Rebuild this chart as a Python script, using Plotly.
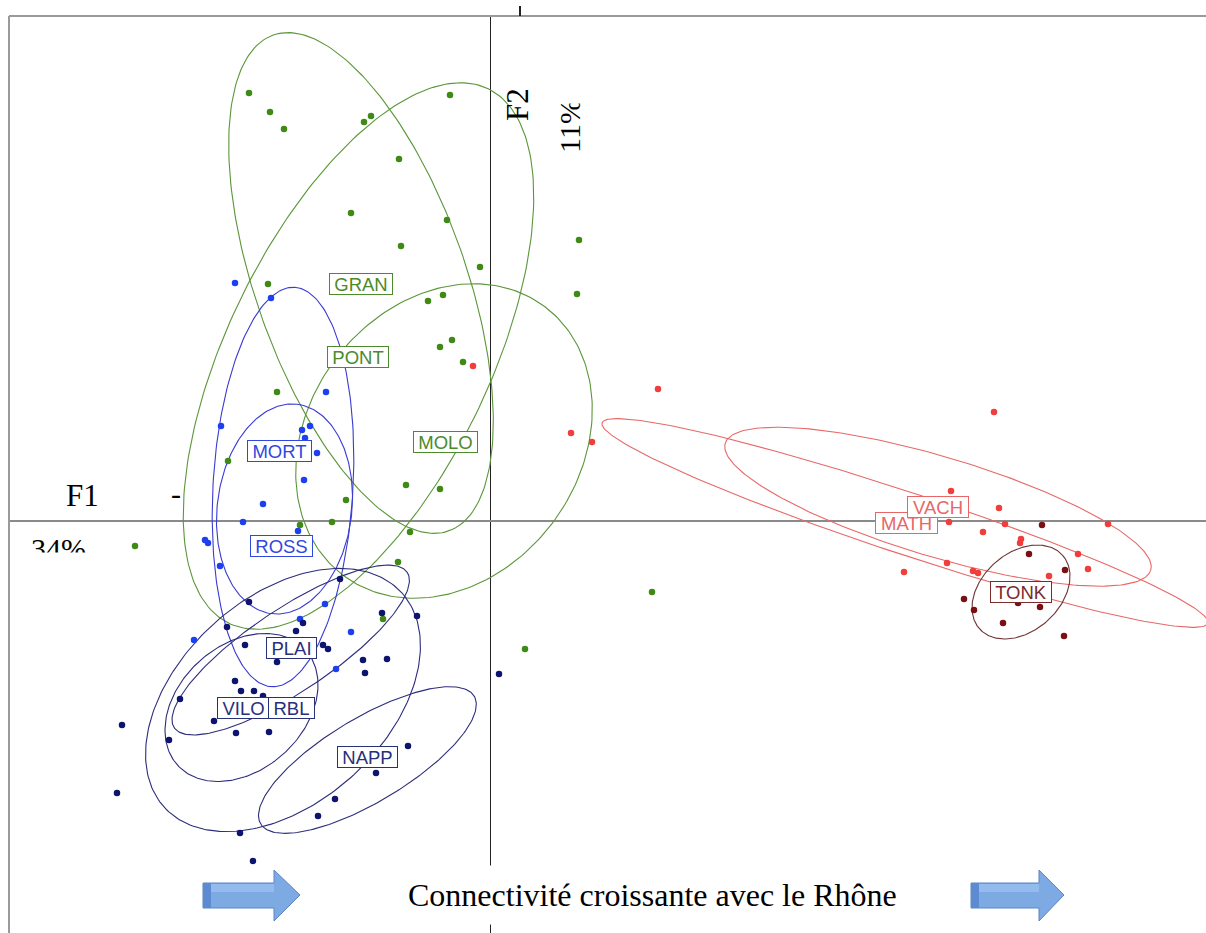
import numpy as np
import plotly.graph_objects as go

# ---------------- data (F1 / F2 factorial scores) ----------------
green_x = [-2.41, -2.20, -2.06, -1.26, -1.19, -0.40, -0.91, -1.39, -0.43, -0.89, -0.10, 0.89, 0.87,
           -2.22, -0.62, -0.47, -0.50, -0.38, -0.27, -2.13, -2.62, -1.44, -0.84, -0.50, -1.90, -1.58,
           -0.80, -0.92, -3.55, -1.07, 0.35, 1.62]
green_y = [4.28, 4.09, 3.92, 3.99, 4.05, 4.26, 3.62, 3.08, 3.01, 2.75, 2.54, 2.81, 2.27,
           2.37, 2.20, 2.26, 1.74, 1.81, 1.59, 1.29, 0.60, 0.21, 0.36, 0.32, -0.04, -0.01,
           -0.11, -0.41, -0.25, -0.98, -1.28, -0.71]

blue_x = [-2.55, -2.19, -1.64, -2.69, -1.88, -1.80, -1.85, -1.73, -1.86, -2.27, -2.47, -1.92,
          -2.85, -2.82, -2.70, -1.65, -1.90, -2.96, -1.39, -1.54]
blue_y = [2.38, 2.23, 1.29, 0.95, 0.91, 0.95, 0.83, 0.68, 0.41, 0.17, -0.01, -0.10,
          -0.19, -0.22, -0.45, -0.83, -0.98, -1.19, -1.11, -1.48]

navy_x = [-1.50, -2.41, -2.63, -1.94, -1.87, -1.08, -0.73, -2.45, -1.67, -1.62, -2.13, -1.27,
          -1.03, -1.25, -2.55, -2.49, -2.36, -2.27, -3.10, -2.76, -2.54, -2.21, -3.21, -0.82,
          -1.14, -1.55, -1.72, -2.50, -3.68, -3.73, -2.37, 0.09]
navy_y = [-0.58, -0.81, -1.06, -1.10, -1.02, -0.92, -0.95, -1.24, -1.24, -1.28, -1.41, -1.39,
          -1.38, -1.52, -1.60, -1.70, -1.70, -1.75, -1.78, -2.00, -2.12, -2.11, -2.19, -2.25,
          -2.52, -2.78, -2.95, -3.12, -2.04, -2.72, -3.40, -1.53]

red_x = [-0.17, 1.68, 0.81, 1.02, 5.04, 4.61, 5.09, 4.59, 5.15, 4.93, 5.31, 5.30, 6.18, 5.88,
         5.98, 5.59, 4.57, 4.14, 4.83, 4.88]
red_y = [1.55, 1.32, 0.88, 0.79, 1.09, 0.30, 0.13, -0.01, -0.03, -0.11, -0.18, -0.22, -0.03,
         -0.33, -0.48, -0.55, -0.42, -0.51, -0.50, -0.52]

dred_x = [5.52, 5.39, 5.75, 4.74, 4.84, 5.50, 5.28, 5.13, 5.74]
dred_y = [-0.04, -0.33, -0.49, -0.78, -0.89, -0.86, -0.82, -1.02, -1.15]

# class ellipses: centre, semi-axes, orientation (deg)
ell_name = ["GRAN", "PONT", "MOLO", "MORT", "ROSS", "PLAI", "VILO", "RBL", "NAPP", "MATH", "VACH", "TONK"]
ell_cx = [-1.29, -1.315, -0.46, -2.07, -2.055, -1.993, -2.485, -2.07, -1.226, 4.15, 4.48, 5.31]
ell_cy = [2.38, 1.65, 0.80, 0.34, 0.12, -1.29, -1.865, -1.79, -2.39, -0.02, 0.143, -0.71]
ell_a = [2.63, 2.97, 1.68, 2.00, 1.055, 1.40, 0.861, 1.60, 1.244, 3.19, 2.22, 0.555]
ell_b = [1.05, 1.31, 1.36, 0.70, 0.673, 0.413, 0.626, 1.03, 0.42, 0.31, 0.50, 0.391]
ell_ang = [109.5, 64.1, 53.2, 86.7, 83.0, 33.7, 41.9, 42.0, 30.9, -18.3, -16.6, 41.4]
ell_grp = ["g", "g", "g", "b", "b", "n", "n", "n", "n", "r", "r", "d"]

# class labels
lab_name = ["GRAN", "PONT", "MOLO", "MORT", "ROSS", "PLAI", "VILO", "RBL", "NAPP", "MATH", "VACH", "TONK"]
lab_x = [-1.29, -1.316, -0.45, -2.104, -2.087, -1.987, -2.47, -1.983, -1.227, 4.167, 4.482, 5.305]
lab_y = [2.37, 1.64, 0.79, 0.702, -0.253, -1.27, -1.873, -1.87, -2.36, -0.02, 0.138, -0.71]
lab_grp = ["g", "g", "g", "b", "b", "n", "n", "n", "n", "r", "r", "d"]

pt_col = {"g": "#3f8a14", "b": "#1d3ff2", "n": "#0c1470", "r": "#f23d3d", "d": "#7a1014"}
ell_col = {"g": "#5b963a", "b": "#3a3ad4", "n": "#2d2d7c", "r": "#e86868", "d": "#703434"}
lab_col = {"g": "#4c8a2c", "b": "#3048e0", "n": "#283078", "r": "#e86666", "d": "#7a2c2c"}

# approximate Arial advance widths (em) used to size label boxes
CHAR_W = {"G": .778, "R": .722, "A": .667, "N": .722, "P": .667, "O": .778, "T": .611, "M": .833,
          "L": .556, "S": .667, "I": .278, "V": .667, "B": .667, "C": .722, "H": .722, "K": .667}
LAB_FS = 18.5

W, H = 1206, 933
ML, MT = 9, 16


def px(x, y):
    """pixel position -> paper coordinates (for decorations)"""
    return (x - ML) / (W - ML), (H - y) / (H - MT)


fig = go.Figure()

t = np.linspace(0, 2 * np.pi, 240)
for i in range(len(ell_name)):
    ph = np.deg2rad(ell_ang[i])
    ex = ell_cx[i] + ell_a[i] * np.cos(t) * np.cos(ph) - ell_b[i] * np.sin(t) * np.sin(ph)
    ey = ell_cy[i] + ell_a[i] * np.cos(t) * np.sin(ph) + ell_b[i] * np.sin(t) * np.cos(ph)
    fig.add_trace(go.Scatter(x=ex, y=ey, mode="lines", line=dict(color=ell_col[ell_grp[i]], width=1.1),
                             hoverinfo="skip", showlegend=False))

for xs, ys, g in [(green_x, green_y, "g"), (blue_x, blue_y, "b"), (navy_x, navy_y, "n"),
                  (red_x, red_y, "r"), (dred_x, dred_y, "d")]:
    fig.add_trace(go.Scatter(x=xs, y=ys, mode="markers",
                             marker=dict(color=pt_col[g], size=6.5, line=dict(width=0)),
                             showlegend=False))

ann = []
for i in range(len(lab_name)):
    c = lab_col[lab_grp[i]]
    w = sum(CHAR_W.get(ch, 0.7) for ch in lab_name[i]) * LAB_FS + 9
    ann.append(dict(x=lab_x[i], y=lab_y[i], xref="x", yref="y", text=lab_name[i], showarrow=False,
                    xanchor="center", yanchor="middle",
                    font=dict(family="Liberation Sans, Arial", size=LAB_FS, color=c),
                    bgcolor="white", bordercolor=c, borderwidth=1, borderpad=0,
                    width=round(w), height=20))

serif = "Liberation Serif, Times New Roman"


def txt(x, y, s, size, angle=0, **kw):
    a, b = px(x, y)
    d = dict(x=a, y=b, xref="paper", yref="paper", text=s, textangle=angle, showarrow=False,
             xanchor="center", yanchor="middle", font=dict(family=serif, size=size, color="black"))
    d.update(kw)
    ann.append(d)


txt(518, 105, "F2", 31, -90)
txt(569, 126, "11%", 30, -90)
txt(570, 90, " ", 12, bgcolor="white", width=40, height=24)      # clip top of "11%"
txt(82, 496, "F1", 31)
txt(176, 494, "-", 30)
txt(58, 548, "34%", 30)
txt(60, 565, " ", 12, bgcolor="white", width=90, height=22)      # clip bottom of "34%"
txt(652, 895, "Connectivité croissante avec le Rhône", 32, bgcolor="white", borderpad=11)

shapes = []
# frame (left and top)
shapes.append(dict(type="line", xref="paper", yref="paper", x0=0, x1=0, y0=0, y1=1,
                   line=dict(color="#9a9a9a", width=2)))
shapes.append(dict(type="line", xref="paper", yref="paper", x0=0, x1=1, y0=1, y1=1,
                   line=dict(color="#9a9a9a", width=2)))
# small tick above frame
a0, b0 = px(520, 6)
a1, b1 = px(520, 16)
shapes.append(dict(type="line", xref="paper", yref="paper", x0=a0, x1=a1, y0=b0, y1=b1,
                   line=dict(color="#222222", width=2)))


def arrow(xl, xh, xt, yc):
    pts = [(xl, yc - 12), (xh, yc - 12), (xh, yc - 25), (xt, yc), (xh, yc + 26), (xh, yc + 13), (xl, yc + 13)]
    p = [px(a, b) for a, b in pts]
    path = "M " + " L ".join(f"{a:.5f},{b:.5f}" for a, b in p) + " Z"
    shapes.append(dict(type="path", xref="paper", yref="paper", path=path,
                       fillcolor="#7eaae4", line=dict(color="#5a86c6", width=1)))
    # lighter top band
    q = [px(xl + 8, yc - 11), px(xh, yc - 11), px(xh, yc - 3), px(xl + 8, yc - 3)]
    path3 = "M " + " L ".join(f"{a:.5f},{b:.5f}" for a, b in q) + " Z"
    shapes.append(dict(type="path", xref="paper", yref="paper", path=path3,
                       fillcolor="#93bbee", line=dict(width=0)))
    # darker left band
    q = [px(xl, yc - 12), px(xl + 8, yc - 12), px(xl + 8, yc + 13), px(xl, yc + 13)]
    path2 = "M " + " L ".join(f"{a:.5f},{b:.5f}" for a, b in q) + " Z"
    shapes.append(dict(type="path", xref="paper", yref="paper", path=path2,
                       fillcolor="#5d8bd0", line=dict(width=0)))


arrow(203, 274, 300, 895)
arrow(971, 1039, 1064, 895)

fig.update_layout(
    width=W, height=H,
    margin=dict(l=ML, r=0, t=MT, b=0),
    paper_bgcolor="white", plot_bgcolor="white",
    xaxis=dict(range=[-4.81, 7.16], showgrid=False, showticklabels=False, ticks="",
               zeroline=True, zerolinecolor="#222222", zerolinewidth=1, showline=False),
    yaxis=dict(range=[-4.12, 5.05], showgrid=False, showticklabels=False, ticks="",
               zeroline=True, zerolinecolor="#8a8a8a", zerolinewidth=2, showline=False),
    annotations=ann, shapes=shapes, showlegend=False,
)

fig.write_html("out.html", config={"displayModeBar": False},
               post_script="document.body.style.margin='0px';document.body.style.overflow='hidden';")
